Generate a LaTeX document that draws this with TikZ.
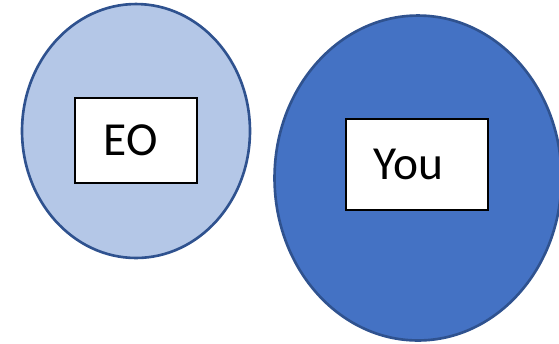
\documentclass[tikz,border=0pt]{standalone}
\usepackage{fontspec}
\setmainfont{Carlito}
\usepackage{xcolor}
\usepackage{tikz}
\usetikzlibrary{positioning}
\usetikzlibrary{shapes.geometric}
\definecolor{lightblob}{HTML}{B4C7E7}
\definecolor{darkblob}{HTML}{4472C4}
\definecolor{blobline}{HTML}{2F528F}

\begin{document}
\begin{tikzpicture}
                [x=0.02cm, y=-0.02cm,
                 blob/.style = {ellipse, draw=blobline, line width=1.5pt, inner sep=0pt},
                 tag/.style = {draw=black, fill=white, line width=0.9pt, inner sep=0pt,
                               font=\fontsize{27}{31}\selectfont}]

                \clip (0,0) rectangle (559,343);
                \useasboundingbox (0,0) rectangle (559,343);

                \node[blob, fill=lightblob, minimum width=4.56cm, minimum height=5.08cm] (eoblob) at (136,131) {};
                \node[blob, fill=darkblob, minimum width=5.74cm, minimum height=6.5cm] (youblob) at (418,178) {};

                \node[tag, minimum width=2.44cm, minimum height=1.7cm] (eo) at (136,140.5) {EO\hspace*{6pt}};
                \node[tag, minimum width=2.84cm, minimum height=1.82cm] (you) at (417,164.5) {You\hspace*{10pt}};
            \end{tikzpicture}
\end{document}
